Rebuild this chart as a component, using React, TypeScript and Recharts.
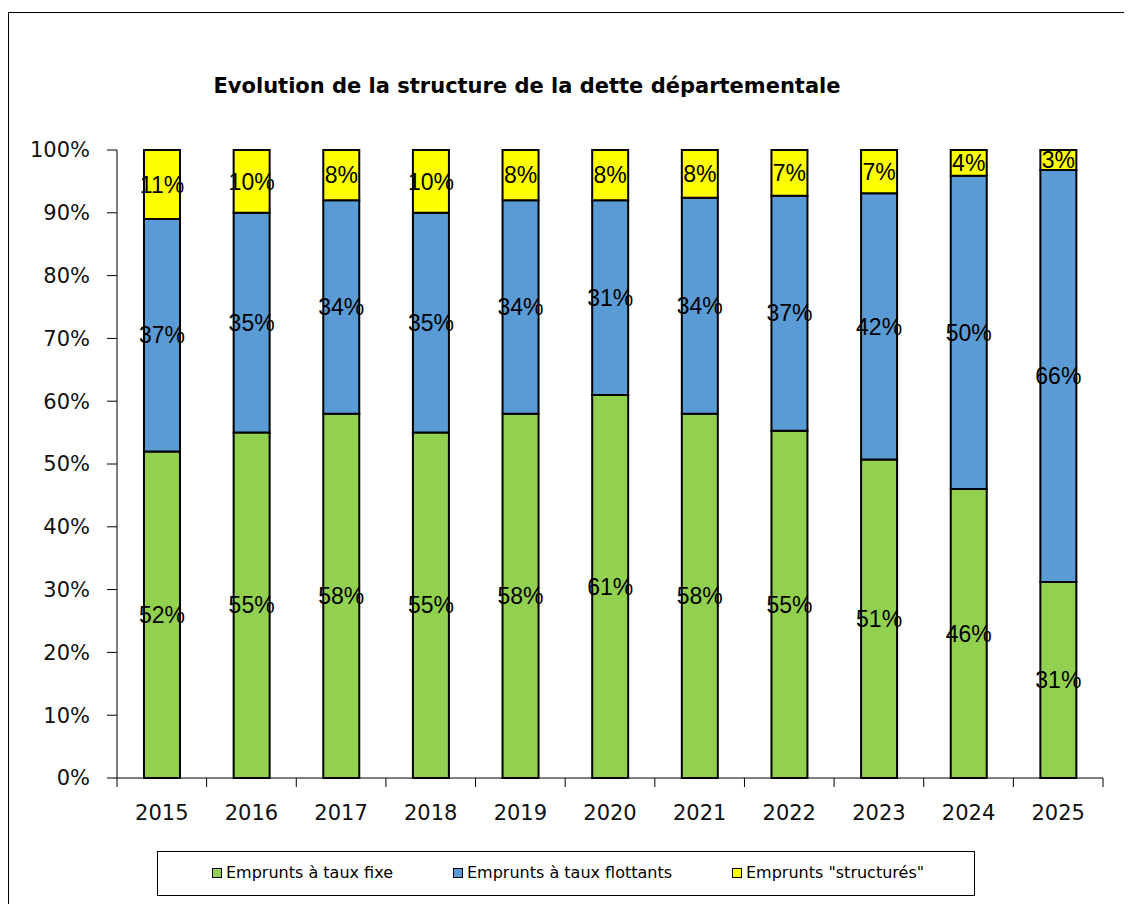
import React from 'react';
import { BarChart, Bar, XAxis, YAxis, LabelList } from 'recharts';

const years = ['2015', '2016', '2017', '2018', '2019', '2020', '2021', '2022', '2023', '2024', '2025'];
const fixe = [52, 55, 58, 55, 58, 61, 58, 55.3, 50.7, 46, 31.2];
const flottants = [37, 35, 34, 35, 34, 31, 34.4, 37.4, 42.4, 49.9, 65.6];
const structures = [11, 10, 8, 10, 8, 8, 7.6, 7.3, 6.9, 4.1, 3.2];
const yTicks = [0, 10, 20, 30, 40, 50, 60, 70, 80, 90, 100];

const data = years.map((year, i) => ({
  year,
  fixe: fixe[i],
  flottants: flottants[i],
  structures: structures[i],
}));

const GREEN = '#92D050';
const BLUE = '#5B9BD5';
const YELLOW = '#FFFF00';

const PLOT_LEFT = 109;
const PLOT_RIGHT = 1095;
const BAND = (PLOT_RIGHT - PLOT_LEFT) / years.length;

const pct = (v: any) => `${Math.round(Number(v))}%`;

const labelStyle = { fontFamily: '"Liberation Sans", Arial, sans-serif', fontSize: 23, fill: '#000' };

function XTick(props: any) {
  const { x, y, payload, index } = props;
  const isLast = index === years.length - 1;
  return (
    <g>
      <line x1={x - BAND / 2} y1={y} x2={x - BAND / 2} y2={y + 9} stroke="#000" strokeWidth={1} />
      {isLast && <line x1={x + BAND / 2} y1={y} x2={x + BAND / 2} y2={y + 9} stroke="#000" strokeWidth={1} />}
      <text x={x} y={y + 42} textAnchor="middle" fontFamily="DejaVu Sans, Verdana, sans-serif" fontSize={21} fill="#111">
        {payload.value}
      </text>
    </g>
  );
}

const legendItems = [
  { name: 'Emprunts à taux fixe', color: GREEN, x: 204 },
  { name: 'Emprunts à taux flottants', color: BLUE, x: 445 },
  { name: 'Emprunts "structurés"', color: YELLOW, x: 724 },
];

export default function App() {
  return (
    <div style={{ position: 'relative', width: 1124, height: 896, overflow: 'hidden', background: '#fff' }}>
      <div style={{ position: 'absolute', left: 0, top: 4, width: 1200, height: 1000, border: '1px solid #000', boxSizing: 'border-box' }} />
      <div
        style={{
          position: 'absolute',
          left: 0,
          width: 1038,
          top: 66,
          textAlign: 'center',
          fontFamily: '"DejaVu Sans", Tahoma, sans-serif',
          fontWeight: 700,
          fontSize: 21,
          color: '#000',
        }}
      >
        Evolution de la structure de la dette départementale
      </div>
      <div style={{ position: 'absolute', left: 0, top: 0 }}>
        <BarChart width={1124} height={830} data={data} margin={{ top: 142, right: 29, left: 0, bottom: 0 }} barSize={36}>
          <XAxis xAxisId="top" orientation="top" dataKey="year" tick={false} tickLine={false} axisLine={{ stroke: '#888' }} height={0} />
          <YAxis yAxisId="right" orientation="right" domain={[0, 100]} tick={false} tickLine={false} axisLine={{ stroke: '#888' }} width={0} />
          <XAxis
            dataKey="year"
            tickLine={false}
            tickSize={0}
            tickMargin={0}
            axisLine={{ stroke: '#000' }}
            tick={<XTick />}
            height={60}
            interval={0}
          />
          <YAxis
            domain={[0, 100]}
            ticks={yTicks}
            tickFormatter={(v) => `${v}%`}
            width={109}
            tickSize={10}
            tickMargin={17}
            axisLine={{ stroke: '#000' }}
            tickLine={{ stroke: '#000' }}
            tick={{ fontFamily: 'DejaVu Sans, Verdana, sans-serif', fontSize: 21, fill: '#111' }}
            interval={0}
          />
          <Bar dataKey="fixe" stackId="a" fill={GREEN} stroke="#000" strokeWidth={2} isAnimationActive={false}>
            <LabelList dataKey="fixe" position="center" formatter={pct} style={labelStyle} />
          </Bar>
          <Bar dataKey="flottants" stackId="a" fill={BLUE} stroke="#000" strokeWidth={2} isAnimationActive={false}>
            <LabelList dataKey="flottants" position="center" formatter={pct} style={labelStyle} />
          </Bar>
          <Bar dataKey="structures" stackId="a" fill={YELLOW} stroke="#000" strokeWidth={2} isAnimationActive={false}>
            <LabelList dataKey="structures" position="center" formatter={pct} style={labelStyle} />
          </Bar>
        </BarChart>
      </div>
      <div
        style={{
          position: 'absolute',
          left: 149,
          top: 843,
          width: 818,
          height: 45,
          border: '1px solid #000',
          boxSizing: 'border-box',
          background: '#fff',
        }}
      />
      {legendItems.map((item) => (
        <div
          key={item.name}
          style={{
            position: 'absolute',
            left: item.x,
            top: 855,
            display: 'flex',
            alignItems: 'center',
            fontFamily: '"DejaVu Sans", Tahoma, sans-serif',
            fontSize: 16,
            color: '#000',
            whiteSpace: 'nowrap',
          }}
        >
          <span
            style={{
              display: 'inline-block',
              width: 10,
              height: 10,
              background: item.color,
              border: '1.5px solid #000',
              boxSizing: 'border-box',
              marginRight: 4,
            }}
          />
          {item.name}
        </div>
      ))}
    </div>
  );
}
